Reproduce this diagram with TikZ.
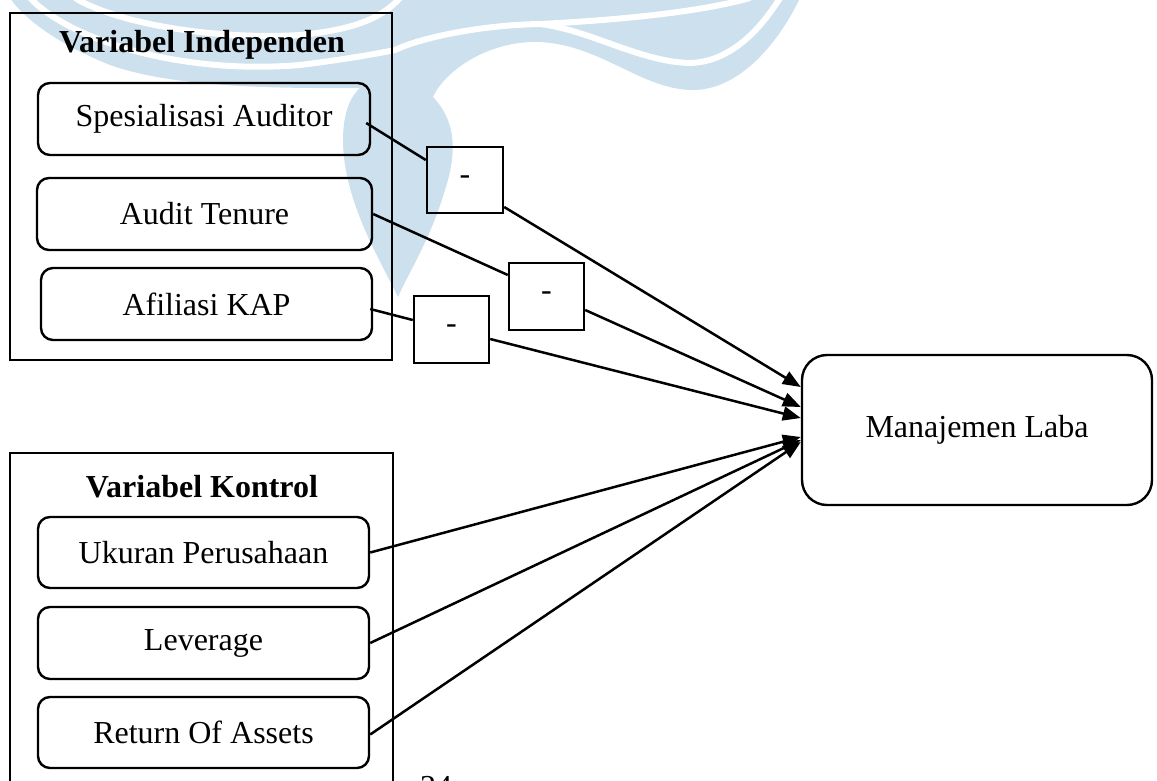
\documentclass[tikz,border=0pt]{standalone}
\usepackage{fontspec}
\setmainfont{Liberation Serif}
\usetikzlibrary{arrows.meta,calc}
\definecolor{wm}{RGB}{204,224,238}
\begin{document}
\begin{tikzpicture}[x=1pt,y=-1pt,
  every node/.style={font=\fontsize{32}{38}\selectfont, inner sep=0pt},
  varbox/.style={draw, line width=2.4pt, rounded corners=12pt},
  groupbox/.style={draw, line width=1.5pt},
  signbox/.style={draw, line width=2.4pt},
  titletext/.style={font=\fontsize{32}{38}\selectfont\bfseries},
  link/.style={line width=2.5pt},
  arr/.style={line width=2.5pt, -{Triangle[length=18pt,width=14pt]}},
]
\clip (0,0) rectangle (1157,780);
% watermark logo
\fill[wm] (398,297) .. controls (380,260) and (343,200) .. (343,140)
  .. controls (343,110) and (352,95) .. (360,88)
  .. controls (300,88) and (180,90) .. (110,65)
  .. controls (60,45) and (25,20) .. (10,-2)
  -- (800,-2)
  .. controls (780,40) and (740,92) .. (690,90)
  .. controls (640,88) and (600,45) .. (540,42)
  .. controls (490,40) and (445,70) .. (433,97)
  .. controls (455,120) and (458,150) .. (445,190)
  .. controls (430,240) and (410,270) .. (398,297) -- cycle;
\draw[white, line width=6pt] (30,-2) .. controls (70,40) and (180,75) .. (300,65)
  .. controls (340,60) and (370,55) .. (395,50)
  .. controls (420,38) and (480,25) .. (540,24)
  .. controls (620,20) and (700,12) .. (750,-2);
\draw[white, line width=6pt] (540,24) .. controls (590,30) and (640,62) .. (690,63)
  .. controls (730,62) and (760,30) .. (780,-2);
\draw[white, line width=6pt] (75,-2) .. controls (120,25) and (220,40) .. (300,35)
  .. controls (350,30) and (380,20) .. (400,-2);

% group frames
\node[groupbox, minimum width=382pt, minimum height=347pt] (indep) at (201,186.5) {};
\node[groupbox, minimum width=383pt, minimum height=380pt] (kontrol) at (201.5,643) {};
\node[titletext] (indeptitle) at (202,45) {Variabel Independen};
\node[titletext] (kontroltitle) at (202,487) {Variabel Kontrol};

% variable boxes
\node[varbox, minimum width=332pt, minimum height=72pt] (spes) at (204,119) {Spesialisasi Auditor};
\node[varbox, minimum width=335pt, minimum height=72pt] (tenure) at (204.5,214) {Audit Tenure};
\node[varbox, minimum width=331pt, minimum height=72pt] (kap) at (206.5,304) {Afiliasi KAP};
\node[varbox, minimum width=331pt, minimum height=71pt] (ukuran) at (203.5,552.5) {Ukuran Perusahaan};
\node[varbox, minimum width=331pt, minimum height=72pt] (lev) at (203.5,643) {Leverage};
\node[varbox, minimum width=331pt, minimum height=71pt] (roa) at (203.5,732.5) {Return Of Assets};

% sign boxes
\node[signbox, minimum width=76pt, minimum height=66pt] (s1) at (465,180) {-};
\node[signbox, minimum width=75pt, minimum height=67pt] (s2) at (546.5,296.5) {-};
\node[signbox, minimum width=75pt, minimum height=67pt] (s3) at (451.5,329.5) {-};

% dependent
\node[draw, line width=2.4pt, rounded corners=25pt, minimum width=350pt, minimum height=150pt] (ml) at (977,430) {Manajemen Laba};

% page number (cut off at the page edge, as in the reference)
\node[anchor=base west] (pg) at (420,797) {24};

% connectors
\draw[link] ([xshift=-5pt,yshift=-4pt]spes.east) -- ([yshift=20pt]s1.west);
\draw[arr] ([yshift=-27pt]s1.east) -- ([yshift=43pt]ml.west);
\draw[link] (tenure.east) -- ([yshift=21.5pt]s2.west);
\draw[arr] ([yshift=-13.5pt]s2.east) -- ([yshift=23pt]ml.west);
\draw[link] ([xshift=-3pt,yshift=-5pt]kap.east) -- ([yshift=9.5pt]s3.west);
\draw[arr] ([yshift=-9.5pt]s3.east) -- ([yshift=12pt]ml.west);
\draw[arr] (ukuran.east) -- ([yshift=-7pt]ml.west);
\draw[arr] (lev.east) -- ([yshift=-10pt]ml.west);
\draw[arr] ([yshift=-2pt]roa.east) -- ([yshift=-12pt]ml.west);
\end{tikzpicture}
\end{document}
